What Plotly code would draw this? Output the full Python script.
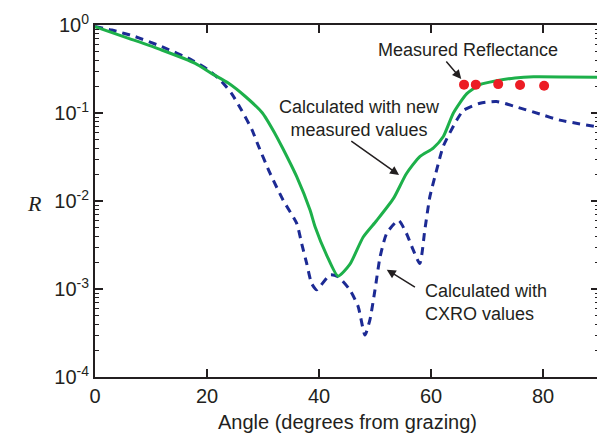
import plotly.graph_objects as go

# ---- data ----
angle_new = [0, 6, 11.9, 17.9, 20.8, 23.8, 26.8, 29.9, 32.1, 33.5, 36, 38.4, 39.3, 41.4, 43.4, 45.5,
             47.9, 50.3, 53.3, 55.6, 58, 60.4, 62.2, 64, 66.4, 68.75, 71.7, 75, 78.3, 84, 90]
r_new = [0.96, 0.706, 0.52, 0.367, 0.282, 0.219, 0.155, 0.10, 0.059, 0.040, 0.019, 0.0079, 0.0051,
         0.0024, 0.0014, 0.0019, 0.0039, 0.006, 0.0107, 0.0204, 0.032, 0.040, 0.054, 0.10, 0.166,
         0.21, 0.232, 0.25, 0.258, 0.257, 0.254]

angle_cxro = [0, 3, 7.1, 11.9, 17.3, 20.2, 22.6, 24.4, 26.2, 28, 29.2, 31.25, 33.6, 36,
              36.9, 37.8, 38.7, 39.6, 40.2, 42, 43.4, 45.5, 47, 48.2, 49.1, 50, 50.9, 52.1, 54.2,
              55.6, 56.8, 58, 58.9, 59.8, 61, 62.2, 64.6, 65.8, 68.75, 71.7, 75.3, 79.5, 83, 90]
r_cxro = [0.96, 0.877, 0.74, 0.568, 0.40, 0.31, 0.229, 0.166, 0.107, 0.065, 0.042, 0.0207, 0.0102,
          0.0056, 0.0033, 0.00195, 0.00115, 0.00098, 0.00107, 0.00145, 0.00138, 0.00098,
          0.00063, 0.0003, 0.00045, 0.00098, 0.0023, 0.0043, 0.006, 0.0043, 0.0028, 0.00195,
          0.0047, 0.0112, 0.0224, 0.042, 0.083, 0.107, 0.129, 0.135, 0.117, 0.097, 0.083, 0.069]

angle_meas = [65.9, 68.0, 72.0, 75.9, 80.2]
r_meas = [0.21, 0.21, 0.213, 0.208, 0.204]

x_ticks = [0, 20, 40, 60, 80]
y_ticks = [1e-4, 1e-3, 1e-2, 1e-1, 1]
y_ticktext = ["10<sup>-4</sup>", "10<sup>-3</sup>", "10<sup>-2</sup>", "10<sup>-1</sup>", "10<sup>0</sup>"]
y_minor = [m * 10.0 ** e for e in range(-4, 0) for m in range(2, 10)]

FONT = "Liberation Sans, Arial, sans-serif"
TXT = "#231f20"

fig = go.Figure()
fig.add_trace(go.Scatter(x=angle_cxro, y=r_cxro, mode="lines",
                         line=dict(color="#1c2a94", width=3, dash="8px,6px", shape="spline", smoothing=0.6)))
fig.add_trace(go.Scatter(x=angle_new, y=r_new, mode="lines",
                         line=dict(color="#1db04a", width=3, shape="spline", smoothing=0.6)))
fig.add_trace(go.Scatter(x=angle_meas, y=r_meas, mode="markers",
                         marker=dict(color="#ec1c24", size=10, line=dict(width=0))))

axis_common = dict(showline=True, linecolor="#231f20", linewidth=2, mirror="allticks",
                   ticks="inside", tickcolor="#231f20", tickwidth=1.5, showgrid=False, zeroline=False,
                   automargin=False, tickfont=dict(family=FONT, size=20, color=TXT))

fig.update_xaxes(range=[0, 90], tickvals=x_ticks, ticklen=8, **axis_common)
fig.update_yaxes(type="log", range=[-4, 0], tickvals=y_ticks, ticktext=y_ticktext, ticklen=8,
                 minor=dict(tickvals=y_minor, ticks="inside", ticklen=4, tickcolor="#231f20", tickwidth=1.2),
                 **axis_common)

annots = [
    dict(text="Measured Reflectance", x=66.6, y=-0.284, showarrow=False),
    dict(text="", x=65.4, y=-0.614, ax=62.5, ay=-0.398, axref="x", ayref="y", showarrow=True),
    dict(text="Calculated with new<br>measured values", x=47.3, y=-1.0625, showarrow=False),
    dict(text="", x=54.3, y=-1.705, ax=45.5, ay=-1.307, axref="x", ayref="y", showarrow=True),
    dict(text="Calculated with<br>CXRO values", x=58.6, y=-3.148, xanchor="left", align="left",
         showarrow=False),
    dict(text="", x=52.1, y=-2.78, ax=57.4, ay=-2.99, axref="x", ayref="y", showarrow=True),
]
for a in annots:
    a.setdefault("xref", "x")
    a.setdefault("yref", "y")
    a["font"] = dict(family=FONT, size=18, color=TXT)
    a.update(arrowhead=2, arrowsize=1.2, arrowwidth=1.5, arrowcolor=TXT)
    fig.add_annotation(**a)

fig.add_annotation(text="<i>R</i>", xref="paper", yref="paper", x=-0.139, y=0.494,
                   showarrow=False, font=dict(family="Liberation Serif, Times New Roman, serif", size=22, color=TXT))
fig.add_annotation(text="Angle (degrees from grazing)", xref="paper", yref="paper", x=0.5, y=-0.128,
                   yanchor="middle", showarrow=False, font=dict(family=FONT, size=20, color=TXT))

fig.update_layout(width=605, height=438, margin=dict(l=87, r=14, t=17, b=69),
                  plot_bgcolor="white", paper_bgcolor="white", showlegend=False)

fig.write_html("out.html")
